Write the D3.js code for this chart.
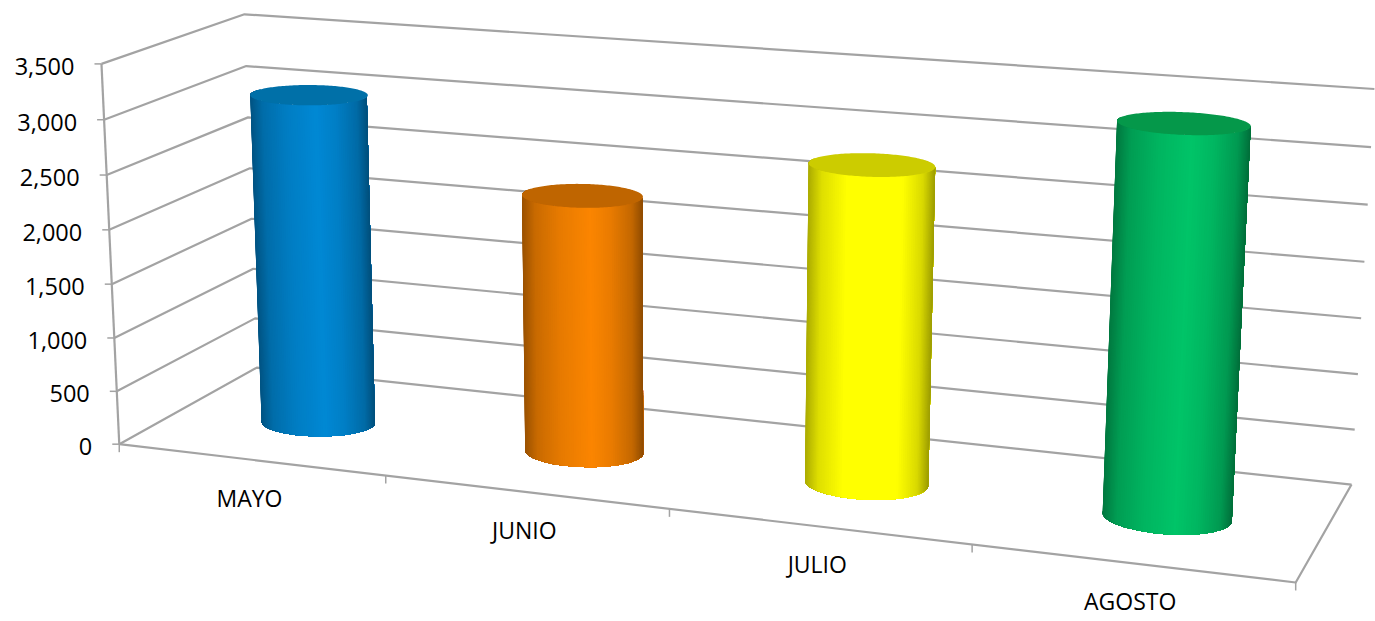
<!DOCTYPE html>
<html><head><meta charset="utf-8">
<script src="https://cdn.jsdelivr.net/npm/d3@7/dist/d3.min.js"></script>
<style>html,body{margin:0;padding:0;background:#fff;overflow:hidden}svg{display:block}text{font-family:"Open Sans",sans-serif;fill:#000}</style>
</head><body><svg id="c" width="1375" height="621"></svg>
<script>
const categories = ["MAYO","JUNIO","JULIO","AGOSTO"];
const values = [3080,2360,2840,3390];
const barColors = ["#0088D4","#FB8500","#FFFF00","#00C468"];
const capColors = ["#0070A8","#BF6500","#CCCC00","#05984A"];
const barGain = [1,1,1.09,1];
const valueTicks = [0,500,1000,1500,2000,2500,3000,3500];
const tickFormat = d3.format(",");

// camera calibration: box coordinates (u along categories, v depth, value height) to screen
const calibration = [
  [0,0,0,120,444],[0,0,500,118,392],[0,0,1000,115,338],[0,0,1500,112,284],
  [0,0,2000,109,229.5],[0,0,2500,106.5,174.5],[0,0,3000,103,119],[0,0,3500,100,63.5],
  [0,1,3500,246,15],[0,1,3000,247,67],[0,1,0,254,367],
  [1,1,3500,1374,89],[1,1,3000,1371,147],[1,1,2500,1368,205],[1,1,500,1355,429],[1,1,0,1352,484],
  [1,0,0,1295,583],[.25,0,0,387,476],[.5,0,0,669,509],[.75,0,0,972,545]
];
const yMax = 3500;
const wScale = d3.scaleLinear().domain([0,yMax]).range([0,1]);
const uScale = d3.scaleBand().domain(categories).range([0,1]);

function solve(A,b){
  const n=b.length, M=A.map((r,i)=>[...r,b[i]]);
  for(let c=0;c<n;c++){
    let p=c; for(let r=c+1;r<n;r++) if(Math.abs(M[r][c])>Math.abs(M[p][c])) p=r;
    [M[c],M[p]]=[M[p],M[c]];
    for(let r=0;r<n;r++) if(r!==c){const f=M[r][c]/M[c][c]; for(let k=c;k<=n;k++) M[r][k]-=f*M[c][k];}
  }
  return M.map((r,i)=>r[n]/r[i]);
}
const rows=[],rhs=[];
calibration.forEach(([u,v,val,x,y])=>{
  const w=wScale(val);
  rows.push([u,v,w,1,0,0,0,0,-x*u,-x*v,-x*w]); rhs.push(x);
  rows.push([0,0,0,0,u,v,w,1,-y*u,-y*v,-y*w]); rhs.push(y);
});
const N=11, AtA=d3.range(N).map(i=>d3.range(N).map(j=>d3.sum(rows,r=>r[i]*r[j]))),
      Atb=d3.range(N).map(i=>d3.sum(rows,(r,k)=>r[i]*rhs[k]));
const P=solve(AtA,Atb);
function project(u,v,val){
  const w=wScale(val), d=P[8]*u+P[9]*v+P[10]*w+1;
  return [(P[0]*u+P[1]*v+P[2]*w+P[3])/d,(P[4]*u+P[5]*v+P[6]*w+P[7])/d];
}

const svg=d3.select("#c"), line=d3.line();
const gridColor="#a3a3a3", gridW=2.2;
const gGrid=svg.append("g").attr("fill","none").attr("stroke",gridColor).attr("stroke-width",gridW).attr("stroke-linejoin","round");

gGrid.selectAll("path.grid").data(valueTicks).join("path").attr("class","grid")
  .attr("d",d=>line([project(0,0,d),project(0,1,d),project(1,1,d)]));
gGrid.append("path").attr("d",line([project(0,0,0),project(1,0,0),project(1,1,0)]));
gGrid.append("path").attr("d",line([project(0,0,0),project(0,0,yMax)]));
gGrid.selectAll("path.yt").data(valueTicks).join("path").attr("class","yt").attr("stroke-width",1.5)
  .attr("d",d=>{const p=project(0,0,d);return line([[p[0]-7,p[1]],p]);});
gGrid.selectAll("path.xt").data([0,.25,.5,.75,1]).join("path").attr("class","xt").attr("stroke-width",1.5)
  .attr("d",d=>{const p=project(d,0,0);return line([p,[p[0],p[1]+8]]);});

svg.append("g").selectAll("text").data(valueTicks).join("text")
  .attr("text-anchor","end").attr("font-size",23.5)
  .attr("x",d=>project(0,0,d)[0]-27).attr("y",d=>project(0,0,d)[1]+11)
  .text(tickFormat);
svg.append("g").selectAll("text").data(categories).join("text")
  .attr("text-anchor","middle").attr("font-size",23)
  .attr("x",d=>project(uScale(d)+uScale.bandwidth()/2,0,0)[0]-1)
  .attr("y",d=>project(uScale(d)+uScale.bandwidth()/2,0,0)[1]+47)
  .text(d=>d);

// cylinders: each front strip is painted from its own edge to the right silhouette, left to right
const radU=uScale.bandwidth()*0.204, radV=0.17, vMid=0.47, steps=90, overrun=0.2;
const nudge=u=>0.0052-0.004*u;
const shade=d3.scaleLinear().domain([0,.1,.3,.55,.72,.9,1]).range([.62,.8,.92,1,.93,.78,.56]).clamp(true);
categories.forEach((cat,i)=>{
  const g=svg.append("g"), u0=uScale(cat)+uScale.bandwidth()/2, uc=u0+nudge(u0), val=values[i];
  const ring=(th,h)=>project(uc+radU*Math.cos(th),vMid+radV*Math.sin(th),h);
  const circle=d3.range(181).map(k=>k/180*2*Math.PI);
  const xs=circle.map(a=>ring(a,0)[0]), xL=d3.min(xs), xR=d3.max(xs);
  const base=d3.color(barColors[i]);
  const front=d3.range(steps+1).map(k=>Math.PI-overrun+k/steps*(Math.PI+2*overrun));
  d3.range(steps).forEach(k=>{
    const rest=front.slice(k);
    const s=shade((ring(front[k],0)[0]-xL)/(xR-xL))*barGain[i];
    const c=d3.rgb(base.r*s,base.g*s,base.b*s).formatHex();
    g.append("path").attr("d",line([...rest.map(a=>ring(a,0)),...rest.slice().reverse().map(a=>ring(a,val))])+"Z")
     .attr("fill",c);
  });
  g.append("path").attr("d",line(circle.map(a=>ring(a,val)))+"Z").attr("fill",capColors[i]);
});
</script></body></html>
